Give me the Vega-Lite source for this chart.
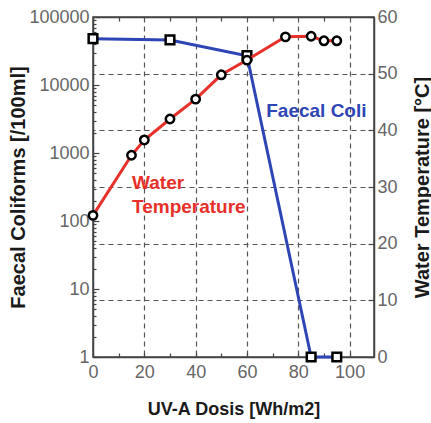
{
  "$schema": "https://vega.github.io/schema/vega-lite/v6.json",
  "width": 281,
  "height": 340,
  "autosize": {"type": "none"},
  "padding": {"left": 93, "top": 17, "right": 57, "bottom": 66},
  "background": "white",
  "config": {
    "view": {"stroke": "#444", "strokeWidth": 1.5},
    "font": "Liberation Sans",
    "axis": {
      "domainColor": "#444",
      "domainWidth": 1.5,
      "tickColor": "#444",
      "tickWidth": 1.2,
      "labelColor": "#666",
      "labelFontSize": 18,
      "labelFont": "Liberation Sans",
      "titleFont": "Liberation Sans",
      "titleFontWeight": "bold",
      "titleColor": "#1a1a1a",
      "labelOverlap": false,
      "labelFlush": false,
      "gridColor": "#555",
      "gridDash": [5, 4],
      "gridWidth": 1.2
    }
  },
  "datasets": {
    "coli": [
      {"dose": 0, "count": 48000},
      {"dose": 30, "count": 46000},
      {"dose": 60, "count": 27000},
      {"dose": 85, "count": 1},
      {"dose": 95, "count": 1}
    ],
    "temp": [
      {"dose": 0, "temp": 25},
      {"dose": 15, "temp": 35.6},
      {"dose": 20, "temp": 38.3},
      {"dose": 30, "temp": 42},
      {"dose": 40, "temp": 45.5},
      {"dose": 50, "temp": 49.8},
      {"dose": 60, "temp": 52.4},
      {"dose": 75, "temp": 56.5},
      {"dose": 85, "temp": 56.6},
      {"dose": 90, "temp": 55.8},
      {"dose": 95, "temp": 55.8}
    ],
    "labels": [
      {"series": "coli", "label": "Faecal Coli"},
      {"series": "temp1", "label": "Water"},
      {"series": "temp2", "label": "Temperature"}
    ]
  },
  "layer": [
    {
      "data": {"name": "coli"},
      "encoding": {
        "x": {
          "field": "dose",
          "type": "quantitative",
          "scale": {"domain": [0, 109.5], "nice": false, "zero": false},
          "axis": {
            "orient": "bottom",
            "values": [0, 10, 20, 30, 40, 50, 60, 70, 80, 90, 100],
            "labelExpr": "datum.value % 20 == 0 ? datum.label : ''",
            "grid": true,
            "gridOpacity": {"condition": {"test": "datum.value % 20 == 0 && datum.value > 0", "value": 1}, "value": 0},
            "tickSize": -4,
            "labelPadding": 10,
            "title": "UV-A Dosis [Wh/m2]",
            "titleFontSize": 18,
            "titlePadding": 19
          }
        },
        "y": {
          "field": "count",
          "type": "quantitative",
          "scale": {"type": "log", "domain": [1, 100000], "nice": false},
          "axis": {
            "orient": "left",
            "values": [1,2,3,4,5,6,7,8,9,10,20,30,40,50,60,70,80,90,100,200,300,400,500,600,700,800,900,1000,2000,3000,4000,5000,6000,7000,8000,9000,10000,20000,30000,40000,50000,60000,70000,80000,90000,100000],
            "labelExpr": "abs(log(datum.value)/LN10 - round(log(datum.value)/LN10)) < 1e-6 ? format(datum.value, 'd') : ''",
            "tickSize": {"condition": {"test": "abs(log(datum.value)/LN10 - round(log(datum.value)/LN10)) < 1e-6", "value": -6}, "value": -3},
            "grid": false,
            "labelPadding": 10,
            "title": "Faecal Coliforms [/100ml]",
            "titleAngle": 270,
            "titleAlign": "center",
            "titleBaseline": "middle",
            "titleX": -75,
            "titleY": 170,
            "titleFontSize": 20
          }
        }
      },
      "layer": [
        {"mark": {"type": "line", "color": "#2d45b5", "strokeWidth": 3}},
        {"mark": {"type": "point", "shape": "square", "filled": true, "fill": "white", "stroke": "black", "strokeWidth": 2.5, "size": 75, "opacity": 1}}
      ]
    },
    {
      "layer": [
        {
          "data": {"name": "temp"},
          "mark": {"type": "line", "color": "#e8302a", "strokeWidth": 3},
          "encoding": {
            "x": {
              "field": "dose",
              "type": "quantitative",
              "scale": {"domain": [0, 109.5], "nice": false, "zero": false},
              "axis": {
                "orient": "top",
                "values": [10, 20, 30, 40, 50, 60, 70, 80, 90, 100],
                "labels": false,
                "grid": false,
                "tickSize": -4,
                "title": null
              }
            },
            "y": {
              "field": "temp",
              "type": "quantitative",
              "scale": {"domain": [0, 60], "nice": false},
              "axis": {
                "orient": "right",
                "values": [0, 5, 10, 15, 20, 25, 30, 35, 40, 45, 50, 55, 60],
                "labelExpr": "datum.value % 10 == 0 ? datum.label : ''",
                "tickSize": {"condition": {"test": "datum.value % 10 == 0", "value": -6}, "value": -4},
                "grid": true,
                "gridOpacity": {"condition": {"test": "datum.value % 10 == 0 && datum.value > 0 && datum.value < 60", "value": 1}, "value": 0},
                "labelPadding": 9,
                "title": "Water Temperature [°C]",
                "titleAngle": 270,
                "titleAlign": "center",
                "titleBaseline": "middle",
                "titleX": 48,
                "titleY": 170,
                "titleFontSize": 20
              }
            }
          }
        },
        {
          "data": {"name": "temp"},
          "mark": {"type": "point", "shape": "circle", "filled": true, "fill": "white", "stroke": "black", "strokeWidth": 2.5, "size": 70, "opacity": 1},
          "encoding": {
            "x": {"field": "dose", "type": "quantitative"},
            "y": {"field": "temp", "type": "quantitative"}
          }
        },
        {
          "data": {"name": "labels"},
          "transform": [{"filter": "datum.series == 'coli'"}],
          "mark": {"type": "text", "align": "left", "baseline": "middle", "fontSize": 19, "fontWeight": "bold", "color": "#2d45b5"},
          "encoding": {
            "x": {"datum": 67.5, "type": "quantitative"},
            "y": {"datum": 43.4, "type": "quantitative"},
            "text": {"field": "label", "type": "nominal"}
          }
        },
        {
          "data": {"name": "labels"},
          "transform": [{"filter": "datum.series == 'temp1'"}],
          "mark": {"type": "text", "align": "left", "baseline": "middle", "fontSize": 19, "fontWeight": "bold", "color": "#e8302a"},
          "encoding": {
            "x": {"datum": 15.2, "type": "quantitative"},
            "y": {"datum": 30.7, "type": "quantitative"},
            "text": {"field": "label", "type": "nominal"}
          }
        },
        {
          "data": {"name": "labels"},
          "transform": [{"filter": "datum.series == 'temp2'"}],
          "mark": {"type": "text", "align": "left", "baseline": "middle", "fontSize": 19, "fontWeight": "bold", "color": "#e8302a"},
          "encoding": {
            "x": {"datum": 15.2, "type": "quantitative"},
            "y": {"datum": 26.5, "type": "quantitative"},
            "text": {"field": "label", "type": "nominal"}
          }
        }
      ]
    }
  ],
  "resolve": {"scale": {"y": "independent"}, "axis": {"x": "independent"}}
}
